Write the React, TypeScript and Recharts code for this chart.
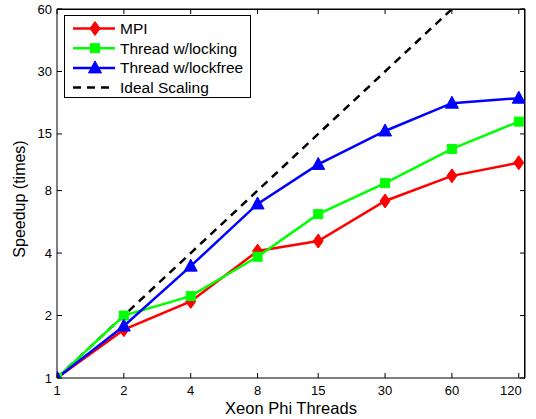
import React from 'react';
import { LineChart, Line, XAxis, YAxis, usePlotArea, useXAxisScale, useYAxisScale } from 'recharts';

const threads = [1, 2, 4, 8, 15, 30, 60, 120];
const mpi = [1, 1.71, 2.34, 4.09, 4.57, 7.13, 9.42, 10.9];
const locking = [1, 2.0, 2.48, 3.84, 6.16, 8.69, 12.7, 17.2];
const lockfree = [1, 1.78, 3.46, 6.9, 10.7, 15.5, 21.1, 22.3];
const ideal = [1, 2, 4, 8, 15, 30, 60, null];

const xTicks = [1, 2, 4, 8, 15, 30, 60, 120];
const yTicks = [1, 2, 4, 8, 15, 30, 60];

const data = threads.map((t, i) => ({
  t,
  mpi: mpi[i],
  locking: locking[i],
  lockfree: lockfree[i],
  ideal: ideal[i],
}));

const FONT = 'Liberation Sans, Arial, Helvetica, sans-serif';

const Marker = ({ kind, cx, cy, color }: { kind: string; cx: number; cy: number; color: string }) => {
  if (kind === 'diamond') {
    return <path d={`M${cx},${cy - 7}L${cx + 5},${cy}L${cx},${cy + 7}L${cx - 5},${cy}Z`} fill={color} stroke={color} />;
  }
  if (kind === 'square') {
    return <rect x={cx - 4.5} y={cy - 4.5} width={9} height={9} fill={color} stroke={color} />;
  }
  return <path d={`M${cx},${cy - 7}L${cx + 6.5},${cy + 5}L${cx - 6.5},${cy + 5}Z`} fill={color} stroke={color} />;
};

const dotFor = (kind: string, color: string) => (props: any) => {
  if (props.cx == null || props.cy == null || props.value == null) return <g key={props.key} />;
  return <Marker key={props.key} kind={kind} cx={props.cx} cy={props.cy} color={color} />;
};

const BottomTick = (props: any) => {
  const { x, y, payload } = props;
  const label = String(payload.value);
  const dx = label === '120' ? -8 : 0;
  return (
    <g>
      <line x1={x} y1={y} x2={x} y2={y - 5} stroke="#000" />
      <text x={x + dx} y={y + 17} textAnchor="middle" fontSize={13} fontFamily={FONT} fill="#000">{label}</text>
    </g>
  );
};

const LeftTick = (props: any) => {
  const { x, y, payload } = props;
  return (
    <g>
      <line x1={x} y1={y} x2={x + 5} y2={y} stroke="#000" />
      <text x={x - 5} y={y + 4.5} textAnchor="end" fontSize={13} fontFamily={FONT} fill="#000">{payload.value}</text>
    </g>
  );
};

// top and right border with inward ticks (box on)
const Frame = () => {
  const area: any = usePlotArea ? usePlotArea() : null;
  const xs: any = useXAxisScale ? useXAxisScale() : null;
  const ys: any = useYAxisScale ? useYAxisScale() : null;
  if (!area) return null;
  const right = area.x + area.width;
  const top = area.y;
  return (
    <g>
      <line x1={area.x} x2={right} y1={top} y2={top} stroke="#000" />
      <line x1={right} x2={right} y1={top} y2={top + area.height} stroke="#000" />
      {typeof xs === 'function' &&
        xTicks.map((t) => <line key={`tx${t}`} x1={xs(t)} x2={xs(t)} y1={top} y2={top + 5} stroke="#000" />)}
      {typeof ys === 'function' &&
        yTicks.map((v) => <line key={`ty${v}`} x1={right} x2={right - 5} y1={ys(v)} y2={ys(v)} stroke="#000" />)}
    </g>
  );
};

const legendItems = [
  { name: 'MPI', color: '#ff0000', kind: 'diamond', dash: false },
  { name: 'Thread w/locking', color: '#00ff00', kind: 'square', dash: false },
  { name: 'Thread w/lockfree', color: '#0000ff', kind: 'triangle', dash: false },
  { name: 'Ideal Scaling', color: '#000000', kind: '', dash: true },
];

const LegendBox = () => (
  <svg width={187} height={83} style={{ display: 'block' }}>
    <rect x={0.5} y={0.5} width={186} height={82} fill="#fff" stroke="#000" />
    {legendItems.map((it, i) => {
      const cy = 13.5 + i * 19.7;
      return (
        <g key={it.name}>
          <line x1={9} x2={51} y1={cy} y2={cy} stroke={it.color} strokeWidth={2.5} strokeDasharray={it.dash ? '8 6' : undefined} />
          {it.kind && <Marker kind={it.kind} cx={31} cy={cy} color={it.color} />}
          <text x={56} y={cy + 5.5} fontSize={15.5} fontFamily={FONT} fill="#000">{it.name}</text>
        </g>
      );
    })}
  </svg>
);

export default function App() {
  return (
    <div style={{ position: 'absolute', left: 0, top: 0, width: 536, height: 419, background: '#fff' }}>
      {/* plain css box as a fallback for the top/right border */}
      <div
        style={{
          position: 'absolute',
          left: 57,
          top: 9,
          width: 467,
          height: 369,
          borderTop: '1px solid #000',
          borderRight: '1px solid #000',
          pointerEvents: 'none',
        }}
      />
      <LineChart width={536} height={419} data={data} margin={{ top: 9, right: 11, left: 0, bottom: 0 }}>
        <XAxis
          dataKey="t"
          type="number"
          scale="log"
          domain={[1, 128]}
          ticks={xTicks}
          allowDataOverflow
          height={41}
          tickSize={0}
          tickMargin={0}
          tickLine={false}
          tick={<BottomTick />}
          axisLine={{ stroke: '#000' }}
          interval={0}
        />
        <YAxis
          type="number"
          scale="log"
          domain={[1, 60]}
          ticks={yTicks}
          allowDataOverflow
          width={57}
          tickSize={0}
          tickMargin={0}
          tickLine={false}
          tick={<LeftTick />}
          axisLine={{ stroke: '#000' }}
          interval={0}
        />
        <Frame />
        <Line dataKey="ideal" stroke="#000" strokeWidth={2.5} strokeDasharray="8 6" dot={false} isAnimationActive={false} />
        <Line dataKey="mpi" stroke="#ff0000" strokeWidth={2.5} dot={dotFor('diamond', '#ff0000')} isAnimationActive={false} />
        <Line dataKey="locking" stroke="#00ff00" strokeWidth={2.5} dot={dotFor('square', '#00ff00')} isAnimationActive={false} />
        <Line dataKey="lockfree" stroke="#0000ff" strokeWidth={2.5} dot={dotFor('triangle', '#0000ff')} isAnimationActive={false} />
        <text x={291} y={414} textAnchor="middle" fontSize={16.5} fontFamily={FONT} fill="#000">Xeon Phi Threads</text>
        <text x={25} y={199} textAnchor="middle" fontSize={16} fontFamily={FONT} fill="#000" transform="rotate(-90 25 199)">Speedup (times)</text>
      </LineChart>
      <div style={{ position: 'absolute', left: 64, top: 15 }}>
        <LegendBox />
      </div>
    </div>
  );
}
